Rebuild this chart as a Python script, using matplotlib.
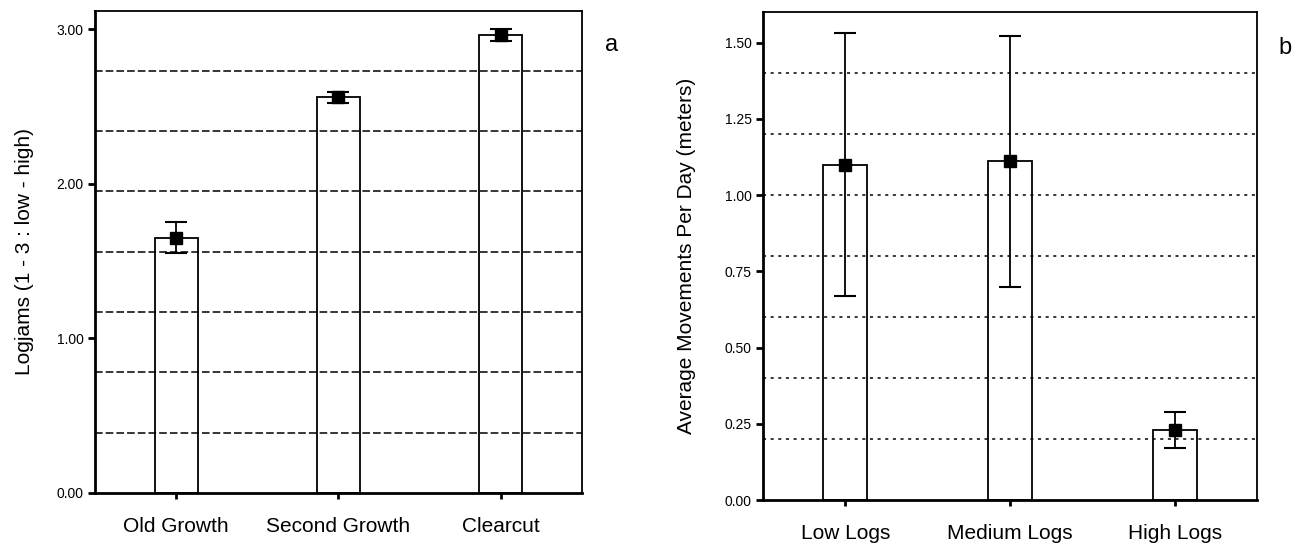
import numpy as np
import matplotlib.pyplot as plt

plt.rcParams['font.family'] = ['Liberation Sans', 'DejaVu Sans']

# panel a: logjam rating by forest type
cats_a = ['Old Growth', 'Second Growth', 'Clearcut']
means_a = [1.65, 2.56, 2.96]
err_a = [0.10, 0.035, 0.04]
yticks_a = [0.0, 1.0, 2.0, 3.0]
grid_a = [0.39, 0.78, 1.17, 1.56, 1.95, 2.34, 2.73]

# panel b: movement by log density
cats_b = ['Low Logs', 'Medium Logs', 'High Logs']
means_b = [1.10, 1.11, 0.23]
err_b = [0.43, 0.41, 0.06]
yticks_b = [0.0, 0.25, 0.5, 0.75, 1.0, 1.25, 1.5]
grid_b = [0.2, 0.4, 0.6, 0.8, 1.0, 1.2, 1.4]


def panel(ax, cats, means, err, yticks, grid, ymax, ls, ylabel, labx):
    x = np.arange(len(cats))
    for g in grid:
        ax.axhline(g, color='black', lw=1.1, ls=ls, zorder=1)
    ax.bar(x, means, width=0.265, facecolor='none', edgecolor='black',
           linewidth=1.3, zorder=2)
    ax.errorbar(x, means, yerr=err, fmt='s', color='black', ms=8.5,
                capsize=8, elinewidth=1.3, capthick=1.5, zorder=3)
    ax.set_xlim(-0.5, len(cats) - 0.5)
    ax.set_ylim(0, ymax)
    ax.set_xticks(x)
    ax.set_xticklabels(cats, fontsize=15)
    ax.set_yticks(yticks)
    ax.set_yticklabels(['%.2f' % v for v in yticks], fontsize=10)
    ax.tick_params(axis='y', length=5, width=2, pad=3)
    ax.tick_params(axis='x', length=4, width=2, pad=13)
    for s in ax.spines.values():
        s.set_linewidth(1.3)
    ax.spines['left'].set_linewidth(2)
    ax.spines['bottom'].set_linewidth(2)
    ax.set_ylabel(ylabel, fontsize=15)
    ax.yaxis.set_label_coords(labx, 0.5)


fig = plt.figure(figsize=(13.06, 5.52), dpi=100)
ax1 = fig.add_axes([0.0727, 0.1069, 0.3729, 0.874])
ax2 = fig.add_axes([0.5842, 0.0942, 0.3783, 0.884])

panel(ax1, cats_a, means_a, err_a, yticks_a, grid_a, 3.12, (0, (5, 2)),
      'Logjams (1 - 3 : low - high)', -0.125)
panel(ax2, cats_b, means_b, err_b, yticks_b, grid_b, 1.6, (0, (2, 3)),
      'Average Movements Per Day (meters)', -0.135)

fig.text(612 / 1306, 1 - 45 / 552, 'a', fontsize=17, ha='center', va='center')
fig.text(1285 / 1306, 1 - 48 / 552, 'b', fontsize=17, ha='center', va='center')

fig.savefig('out.png', dpi=100)
